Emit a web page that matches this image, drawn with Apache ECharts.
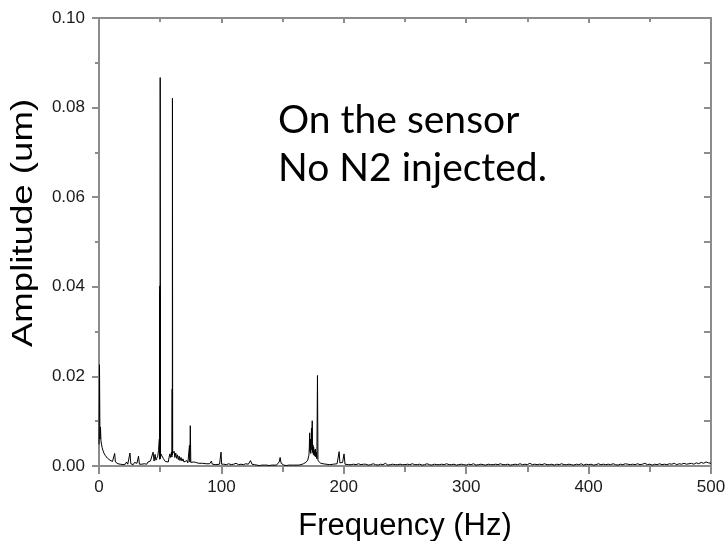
<!DOCTYPE html>
<html>
<head>
<meta charset="utf-8">
<script src="https://cdn.jsdelivr.net/npm/echarts@6/dist/echarts.min.js"></script>
<style>
  html, body { margin: 0; padding: 0; background: #fff; }
  #chart { width: 726px; height: 541px; }
</style>
</head>
<body>
<div id="chart"></div>
<script>
// Amplitude spectrum, [frequency in Hz, amplitude in um]

// DC spike, 50/60 Hz mains lines and their neighbourhood
const lowBand = [
  [0,0.0048],[0.4,0.0226],[0.8,0.0060],[1.2,0.0087],[1.6,0.0056],[2.0,0.0049],[2.6,0.0041],[3.2,0.0035],
  [4.0,0.0029],[5.0,0.0024],[6.0,0.0020],[7.0,0.0017],[8.0,0.0014],[9.0,0.0013],[10.0,0.0011],[11.0,0.0010],
  [12.0,0.0013],[12.8,0.0028],[13.4,0.0009],[14.5,0.0007],[15.5,0.0005],[16.5,0.0008],[17.5,0.0004],[18.5,0.0006],
  [19.5,0.0003],[20.5,0.0007],[21.5,0.0004],[22.5,0.0009],[23.5,0.0004],[24.5,0.0005],[25.3,0.0029],[26.0,0.0005],
  [27.0,0.0007],[28.0,0.0003],[29.0,0.0008],[30.0,0.0004],[31.0,0.0006],[32.3,0.0022],[33.0,0.0004],[34.0,0.0007],
  [35.0,0.0004],[36.0,0.0008],[37.0,0.0005],[38.0,0.0007],[39.0,0.0004],[40.0,0.0009],[41.0,0.0006],[42.0,0.0011],
  [43.0,0.0008],[44.2,0.0031],[45.0,0.0011],[45.8,0.0026],[46.5,0.0013],[47.2,0.0017],[48.0,0.0022],[48.6,0.0034],
  [49.3,0.0060],[49.6,0.0015],[49.7,0.0402],[49.8,0.0020],[49.9,0.0385],[49.95,0.0016],[50.0,0.0867],[50.2,0.0019],
  [50.6,0.0027],[51.2,0.0030],[51.8,0.0023],
  [52.5,0.0017],[53.3,0.0013],[54.2,0.0010],[55.0,0.0008],[55.8,0.0012],[56.6,0.0009],[57.3,0.0020],[57.9,0.0027],
  [58.5,0.0019],[59.2,0.0031],[59.6,0.0020],[59.8,0.0172],[59.9,0.0025],[60.0,0.0821],[60.2,0.0028],[60.8,0.0024],
  [61.4,0.0033],[62.0,0.0019],
  [62.7,0.0029],[63.4,0.0017],[64.1,0.0025],[64.8,0.0014],[65.5,0.0022],[66.2,0.0012],[67.0,0.0019],[67.8,0.0011],
  [68.6,0.0016],[69.4,0.0009],[70.2,0.0013],[71.0,0.0008],[71.8,0.0012],[72.6,0.0007],[73.4,0.0010],[73.9,0.0046],
  [74.2,0.0009],[74.6,0.0090],[75.0,0.0008],[76.0,0.0006],[77.0,0.0009],[78.0,0.0005],[79.0,0.0008],[80.0,0.0004],
  [81.5,0.0006],[83.0,0.0003],[84.5,0.0006],[86.0,0.0004],[87.5,0.0005],[89.0,0.0003],[90.5,0.0005],[91.8,0.0011],
  [92.6,0.0004],[94.0,0.0006],[95.5,0.0003],[97.0,0.0005],[98.5,0.0004],[99.7,0.0031],[100.2,0.0004]
];

// 100-168 Hz floor
const midBand = [
  [101,0.0002],[102,0.0004],[103,0.0002],[104,0.0003],[105,0.0001],[106,0.0005],[107,0.0002],[108,0.0003],
  [109,0.0002],[110,0.0004],[111,0.0002],[112,0.0006],[113,0.0002],[114,0.0003],[115,0.0001],[116,0.0004],
  [117,0.0002],[118,0.0003],[119,0.0002],[120,0.0005],[121,0.0002],[122,0.0004],[123.8,0.0012],[125,0.0004],
  [126,0.0002],[127,0.0003],[128,0.0005],[129,0.0002],[130,0.0003],[131,0.0001],[132,0.0004],[133,0.0002],
  [134,0.0003],[135,0.0002],[136,0.0005],[137,0.0002],[138,0.0003],[139,0.0001],[140,0.0004],[141,0.0002],
  [142,0.0006],[143,0.0002],[144,0.0004],[145,0.0002],[146,0.0005],[147.2,0.0009],[148,0.0019],[148.8,0.0006],
  [150,0.0004],[151,0.0002],[152,0.0003],[153,0.0001],[154,0.0005],[155,0.0002],[156,0.0004],[157,0.0002],
  [158,0.0003],[159,0.0002],[160,0.0005],[161,0.0002],[162,0.0006],[163,0.0002],[164,0.0004],[165,0.0003],
  [166,0.0007],[167,0.0005]
];

// group of lines around 175 Hz and the pair near 200 Hz
const band175 = [
  [168.0,0.0005],[169.0,0.0008],[169.8,0.0006],[170.5,0.0013],[171.0,0.0009],[171.5,0.0024],[171.8,0.0040],[172.1,0.0074],
  [172.4,0.0032],[172.7,0.0060],[173.0,0.0028],[173.3,0.0052],[173.6,0.0085],[173.9,0.0036],[174.2,0.0101],[174.5,0.0030],
  [174.8,0.0047],[175.1,0.0026],[175.4,0.0042],[175.7,0.0024],[176.0,0.0035],[176.4,0.0022],[176.8,0.0038],[177.2,0.0020],
  [177.6,0.0031],[178.0,0.0016],[178.5,0.0202],[178.9,0.0012],[179.5,0.0008],[180.3,0.0011],[181.2,0.0006],[182.0,0.0009],
  [183.0,0.0005],[184.0,0.0007],[185.5,0.0004],[187.0,0.0006],[188.5,0.0003],[190.0,0.0005],[191.5,0.0004],[193.0,0.0006],
  [194.5,0.0005],[195.5,0.0008],[196.2,0.0032],[196.8,0.0007],[197.8,0.0005],[199.0,0.0008],[199.6,0.0006],[200.2,0.0027],
  [201.0,0.0004]
];

// 202-500 Hz floor
const highBand = [
  [202,0.0004],[204,0.0003],[205,0.0001],[206,0.0003],[208,0.0004],[209,0.0002],[210,0.0003],[212,0.0005],
  [213,0.0002],[214,0.0003],[216,0.0004],[217,0.0001],[218,0.0004],[220,0.0002],[221,0.0004],[222,0.0003],
  [224,0.0005],[225,0.0002],[226,0.0003],[228,0.0002],[229,0.0004],[230,0.0004],[232,0.0003],[233,0.0001],
  [234,0.0006],[236,0.0002],[237,0.0004],[238,0.0003],[240,0.0004],[241,0.0001],[242,0.0003],[244,0.0003],
  [245,0.0001],[246,0.0004],[248,0.0003],[249,0.0001],[250,0.0003],[252,0.0004],[253,0.0002],[254,0.0003],
  [256,0.0005],[257,0.0002],[258,0.0003],[260,0.0003],[261,0.0001],[262,0.0004],[264,0.0002],[265,0.0004],
  [266,0.0003],[268,0.0005],[269,0.0002],[270,0.0003],[272,0.0002],[273,0.0004],[274,0.0004],[276,0.0003],
  [277,0.0001],[278,0.0003],[280,0.0004],[281,0.0002],[282,0.0003],[284,0.0005],[285,0.0002],[286,0.0003],
  [288,0.0003],[289,0.0001],[290,0.0004],[292,0.0002],[293,0.0004],[294,0.0003],[296,0.0004],[297,0.0001],
  [298,0.0003],[300,0.0002],[301,0.0004],[302,0.0004],[304,0.0003],[305,0.0001],[306,0.0005],[308,0.0002],
  [309,0.0004],[310,0.0003],[312,0.0004],[313,0.0001],[314,0.0003],[316,0.0002],[317,0.0004],[318,0.0004],
  [320,0.0003],[321,0.0001],[322,0.0003],[324,0.0004],[325,0.0002],[326,0.0003],[328,0.0005],[329,0.0002],
  [330,0.0003],[332,0.0003],[333,0.0001],[334,0.0004],[336,0.0002],[337,0.0004],[338,0.0003],[340,0.0004],
  [341,0.0001],[342,0.0003],[344,0.0005],[345,0.0002],[346,0.0003],[348,0.0004],[349,0.0001],[350,0.0003],
  [352,0.0006],[353,0.0002],[354,0.0003],[356,0.0004],[357,0.0001],[358,0.0003],[360,0.0004],[361,0.0002],
  [362,0.0003],[364,0.0005],[365,0.0002],[366,0.0003],[368,0.0003],[369,0.0001],[370,0.0004],[372,0.0002],
  [373,0.0004],[374,0.0004],[376,0.0003],[377,0.0001],[378,0.0005],[380,0.0003],[381,0.0001],[382,0.0003],
  [384,0.0004],[385,0.0002],[386,0.0003],[388,0.0002],[389,0.0004],[390,0.0004],[392,0.0003],[393,0.0001],
  [394,0.0005],[396,0.0002],[397,0.0004],[398,0.0004],[400,0.0003],[401,0.0001],[402,0.0004],[404,0.0002],
  [405,0.0004],[406,0.0003],[408,0.0005],[409,0.0002],[410,0.0003],[412,0.0004],[413,0.0001],[414,0.0003],
  [416,0.0004],[417,0.0002],[418,0.0003],[420,0.0005],[421,0.0002],[422,0.0003],[424,0.0002],[425,0.0004],
  [426,0.0004],[428,0.0003],[429,0.0001],[430,0.0005],[432,0.0004],[433,0.0002],[434,0.0003],[436,0.0004],
  [437,0.0002],[438,0.0003],[440,0.0005],[441,0.0002],[442,0.0003],[444,0.0004],[445,0.0002],[446,0.0006],
  [448,0.0003],[449,0.0001],[450,0.0004],[452,0.0002],[453,0.0004],[454,0.0004],[456,0.0003],[457,0.0001],
  [458,0.0005],[460,0.0003],[461,0.0002],[462,0.0004],[464,0.0003],[465,0.0002],[466,0.0005],[468,0.0004],
  [469,0.0002],[470,0.0006],[472,0.0003],[473,0.0002],[474,0.0005],[476,0.0004],[477,0.0002],[478,0.0006],
  [480,0.0004],[481,0.0002],[482,0.0005],[484,0.0006],[485,0.0003],[486,0.0004],[488,0.0007],[489,0.0003],
  [490,0.0005],[492,0.0008],[493,0.0004],[494,0.0006],[496,0.0009],[497,0.0012],[498,0.0007],[499,0.0009],
  [500,0.0006]
];

const noteLines = ['On the sensor', 'No N2 injected.'];
const xTitle = 'Frequency (Hz)';
const yTitle = 'Amplitude (um)';

const spectrum = lowBand.concat(midBand, band175, highBand);

const labelFont = 'Liberation Sans, Arial, sans-serif';
const frameColor = '#8c8c8c';
const frameLine = { show: true, onZero: false, lineStyle: { color: frameColor, width: 2 } };

const chart = echarts.init(document.getElementById('chart'), null, { renderer: 'canvas' });
chart.setOption({
  animation: false,
  backgroundColor: '#ffffff',
  grid: { left: 99, right: 15, top: 18, bottom: 75, containLabel: false, outerBoundsMode: 'none' },
  xAxis: [
    {
      type: 'value', position: 'bottom', min: 0, max: 500, interval: 100,
      axisLine: frameLine,
      axisTick: { show: true, length: 8, lineStyle: { color: frameColor, width: 2 } },
      minorTick: { show: true, splitNumber: 2, length: 6, lineStyle: { color: frameColor, width: 2 } },
      splitLine: { show: false },
      axisLabel: { fontFamily: labelFont, fontSize: 17, color: '#1a1a1a', margin: 13 },
      name: xTitle, nameLocation: 'middle', nameGap: 45,
      nameTextStyle: { fontFamily: labelFont, fontSize: 31, color: '#000' }
    },
    {
      type: 'value', position: 'top', min: 0, max: 500, interval: 100,
      axisLine: frameLine,
      axisTick: { show: true, inside: true, length: 5, lineStyle: { color: frameColor, width: 2 } },
      minorTick: { show: true, splitNumber: 2, length: 4, lineStyle: { color: frameColor, width: 2 } },
      splitLine: { show: false },
      axisLabel: { show: false }
    }
  ],
  yAxis: [
    {
      type: 'value', position: 'left', min: 0, max: 0.1, interval: 0.02,
      axisLine: frameLine,
      axisTick: { show: true, length: 7, lineStyle: { color: frameColor, width: 2 } },
      minorTick: { show: true, splitNumber: 2, length: 4, lineStyle: { color: frameColor, width: 2 } },
      splitLine: { show: false },
      axisLabel: {
        fontFamily: labelFont, fontSize: 17, color: '#1a1a1a', margin: 14,
        formatter: v => v.toFixed(2)
      }
    },
    {
      type: 'value', position: 'right', min: 0, max: 0.1, interval: 0.02,
      axisLine: frameLine,
      axisTick: { show: true, inside: true, length: 7, lineStyle: { color: frameColor, width: 2 } },
      minorTick: { show: true, splitNumber: 2, length: 7, lineStyle: { color: frameColor, width: 2 } },
      splitLine: { show: false },
      axisLabel: { show: false }
    }
  ],
  series: [
    {
      type: 'line', xAxisIndex: 0, yAxisIndex: 0,
      data: spectrum,
      showSymbol: false, sampling: null,
      lineStyle: { color: '#000', width: 1 },
      z: 3
    }
  ],
  graphic: [
    {
      // vertical axis title, read bottom to top
      type: 'text', x: 24, y: 223, rotation: Math.PI / 2, scaleX: 1.22,
      style: {
        text: yTitle, font: '30px "Liberation Sans", Arial, sans-serif',
        align: 'center', verticalAlign: 'middle', fill: '#000'
      }
    },
    {
      type: 'text', left: 278, top: 96,
      style: {
        text: noteLines.join('\n'),
        font: '39px Lato, "Open Sans", sans-serif',
        lineHeight: 48, fill: '#000'
      }
    }
  ]
});
</script>
</body>
</html>
